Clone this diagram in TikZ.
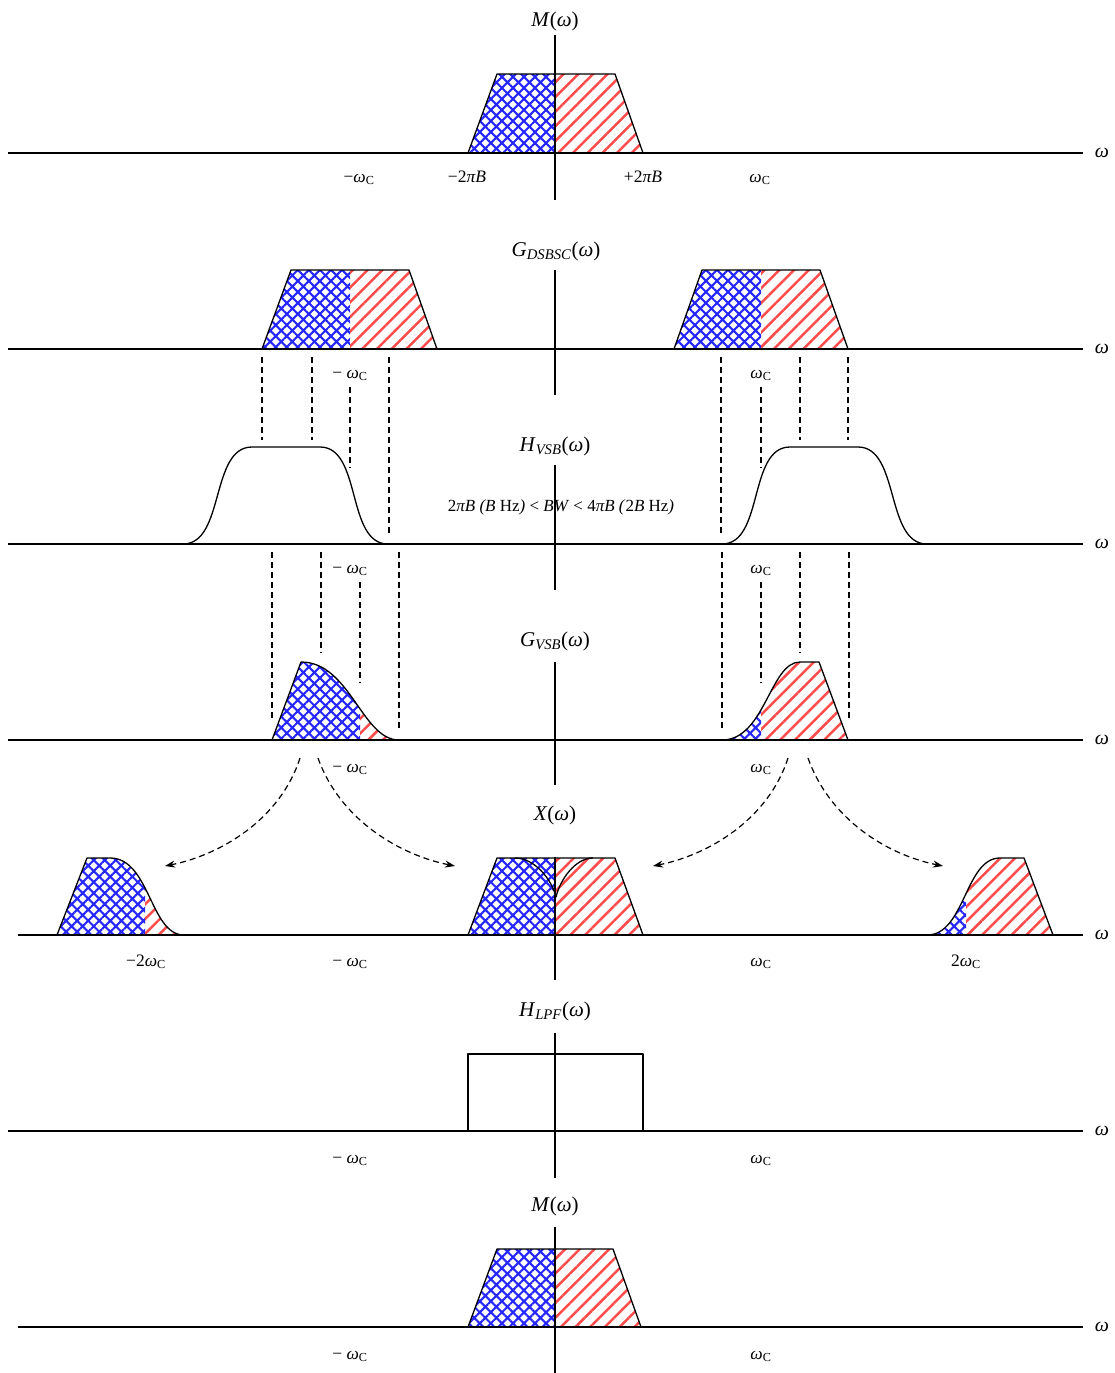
\documentclass[tikz,border=0pt]{standalone}
\usepackage{amsmath,amssymb}
\usepackage{fontspec}
\setmainfont{Liberation Serif}
\usepackage{xcolor}
\usepackage{tikz}
\usetikzlibrary{patterns.meta,arrows.meta}

\newcommand{\om}{\textit{ω}}
\newcommand{\omc}{\textit{ω}\textsubscript{C}}

\begin{document}
\begin{tikzpicture}[x=1pt, y=-1pt,
    axisline/.style={line width=1.3pt},
    spec/.style={line width=1.3pt, line join=round},
    guide/.style={line width=1.2pt, dash pattern=on 6pt off 4pt},
    mix/.style={line width=1.2pt, dash pattern=on 6pt off 4pt, -{Stealth[length=10pt, width=7pt]}},
    lsb/.style={pattern={Hatch[angle=45, distance=7.8pt, line width=2.1pt]}, pattern color=blue!85},
    usb/.style={pattern={Lines[angle=45, distance=10.4pt, line width=2.5pt]}, pattern color=red!70},
    ttl/.style={font=\fontsize{21}{23}\selectfont, anchor=base},
    lbl/.style={font=\fontsize{17.5}{19}\selectfont, anchor=base}]

    % Page frame
    \fill[white] (0,0) rectangle (1115,1373);
    \useasboundingbox (0,0) rectangle (1115,1373);

    % Message spectrum M(omega)
    \fill[lsb] (468,153) -- (497,74) -- (555,74) -- (555,153) -- cycle;
    \fill[usb] (555,153) -- (555,74) -- (615,74) -- (643,153) -- cycle;
    \draw[spec] (468,153) -- (497,74) -- (615,74) -- (643,153);

    % DSB-SC spectrum
    \fill[lsb] (262,349) -- (291,270) -- (350,270) -- (350,349) -- cycle;
    \fill[usb] (350,349) -- (350,270) -- (409,270) -- (437,349) -- cycle;
    \draw[spec] (262,349) -- (291,270) -- (409,270) -- (437,349);
    \fill[lsb] (674,349) -- (702,270) -- (761,270) -- (761,349) -- cycle;
    \fill[usb] (761,349) -- (761,270) -- (820,270) -- (848,349) -- cycle;
    \draw[spec] (674,349) -- (702,270) -- (820,270) -- (848,349);

    % VSB filter
    \draw[spec] (183,544) .. controls (225,544) and (210,447) .. (252,447) -- (320,447)
                .. controls (362,447) and (346,544) .. (388,544);
    \draw[spec] (722,544) .. controls (764,544) and (748,447) .. (790,447) -- (858,447)
                .. controls (900,447) and (885,544) .. (927,544);

    % VSB spectrum
    \begin{scope}
        \clip (272,740) -- (301,662) .. controls (350,662) and (362,740) .. (399,740) -- cycle;
        \fill[lsb] (260,650) rectangle (360,745);
        \fill[usb] (360,650) rectangle (410,745);
    \end{scope}
    \draw[spec] (272,740) -- (301,662) .. controls (350,662) and (362,740) .. (399,740);
    \begin{scope}
        \clip (722,740) .. controls (765,740) and (770,662) .. (800,662) -- (819,662) -- (848,740) -- cycle;
        \fill[lsb] (715,650) rectangle (761,745);
        \fill[usb] (761,650) rectangle (855,745);
    \end{scope}
    \draw[spec] (722,740) .. controls (765,740) and (770,662) .. (800,662) -- (819,662) -- (848,740);

    % Demodulated spectrum X(omega)
    \begin{scope}
        \clip (57,935) -- (87,858) -- (110,858) .. controls (150,858) and (150,935) .. (184,935) -- cycle;
        \fill[lsb] (50,850) rectangle (145,940);
        \fill[usb] (145,850) rectangle (190,940);
    \end{scope}
    \draw[spec] (57,935) -- (87,858) -- (110,858) .. controls (150,858) and (150,935) .. (184,935);
    \fill[lsb] (468,935) -- (497,858) -- (555,858) -- (555,935) -- cycle;
    \fill[usb] (555,935) -- (555,858) -- (615,858) -- (643,935) -- cycle;
    \draw[spec] (468,935) -- (497,858) -- (615,858) -- (643,935);
    \draw[spec] (515,858) .. controls (535,858) and (552,880) .. (556,897)
                .. controls (560,880) and (575,858) .. (593,858);
    \begin{scope}
        \clip (927,935) .. controls (965,935) and (965,858) .. (1000,858) -- (1024,858) -- (1053,935) -- cycle;
        \fill[lsb] (920,850) rectangle (966,940);
        \fill[usb] (966,850) rectangle (1060,940);
    \end{scope}
    \draw[spec] (927,935) .. controls (965,935) and (965,858) .. (1000,858) -- (1024,858) -- (1053,935);

    % Low-pass filter
    \draw[spec] (468,1131) rectangle (643,1054);

    % Recovered M(omega)
    \fill[lsb] (468,1327) -- (497,1249) -- (555,1249) -- (555,1327) -- cycle;
    \fill[usb] (555,1327) -- (555,1249) -- (613,1249) -- (641,1327) -- cycle;
    \draw[spec] (468,1327) -- (497,1249) -- (613,1249) -- (641,1327);

    % Axes
    \foreach \n/\y/\xa/\ya/\yb in {1/153/8/35/200, 2/349/8/270/395, 3/544/8/465/590,
            4/740/8/662/785, 5/935/18/857/980, 6/1131/8/1033/1178, 7/1327/18/1227/1373} {
        \draw[axisline] (\xa,\y) -- (1083,\y);
        \draw[axisline] (555,\ya) -- (555,\yb);
        \node[font=\fontsize{20}{22}\selectfont] (w\n) at (1102,\y) {\om};
    }

    % Guide lines
    \foreach \x/\ya/\yb in {262/357/440, 312/357/440, 350/387/468, 389/357/535,
            721/357/535, 761/387/468, 800/357/440, 848/357/440,
            272/552/720, 321/552/653, 360/582/683, 399/552/728,
            722/552/728, 761/582/683, 800/552/653, 849/552/720}
        \draw[guide] (\x,\ya) -- (\x,\yb);

    % Frequency shifts
    \coordinate (l1) at (300,758);
    \coordinate (l2) at (318,758);
    \coordinate (r1) at (788,758);
    \coordinate (r2) at (808,758);
    \coordinate (ll) at (165,866);
    \coordinate (lc) at (455,866);
    \coordinate (rc) at (653,866);
    \coordinate (rr) at (943,866);
    \draw[mix] (l1) .. controls +(-20,62) and +(55,-11) .. (ll);
    \draw[mix] (l2) .. controls +(22,62) and +(-55,-11) .. (lc);
    \draw[mix] (r1) .. controls +(-20,62) and +(55,-11) .. (rc);
    \draw[mix] (r2) .. controls +(22,62) and +(-55,-11) .. (rr);

    % Titles
    \node[ttl] (m1) at (555,26) {\textit{M}(\om)};
    \node[ttl] (gd) at (556,256) {\textit{G}\textsubscript{\textit{DSBSC}}(\om)};
    \node[ttl] (hv) at (555,451) {\textit{H}\textsubscript{\textit{VSB}}(\om)};
    \node[ttl] (gv) at (555,646) {\textit{G}\textsubscript{\textit{VSB}}(\om)};
    \node[ttl] (xw) at (555,820) {\textit{X}(\om)};
    \node[ttl] (hl) at (555,1016) {\textit{H}\textsubscript{\textit{LPF}}(\om)};
    \node[ttl] (m2) at (555,1211) {\textit{M}(\om)};
    \node[font=\fontsize{17}{19}\selectfont] (bw) at (561,507)
        {2\textit{πB (B} Hz\textit{)} < \textit{BW} < 4\textit{πB (}2\textit{B} Hz\textit{)}};

    % Frequency labels
    \node[lbl] (mc1) at (359,182) {−\omc};
    \node[lbl] (mb) at (467,182) {−2\textit{πB}};
    \node[lbl] (pb) at (643,182) {+2\textit{πB}};
    \node[lbl] (pc1) at (760,182) {\omc};
    \foreach \n/\y in {2/378, 3/573, 4/772, 5/966, 6/1163, 7/1359} {
        \node[lbl] (mc\n) at (350,\y) {− \omc};
        \node[lbl] (pc\n) at (761,\y) {\omc};
    }
    \node[lbl] (m2c) at (146,966) {−2\omc};
    \node[lbl] (p2c) at (966,966) {2\omc};
\end{tikzpicture}
\end{document}
